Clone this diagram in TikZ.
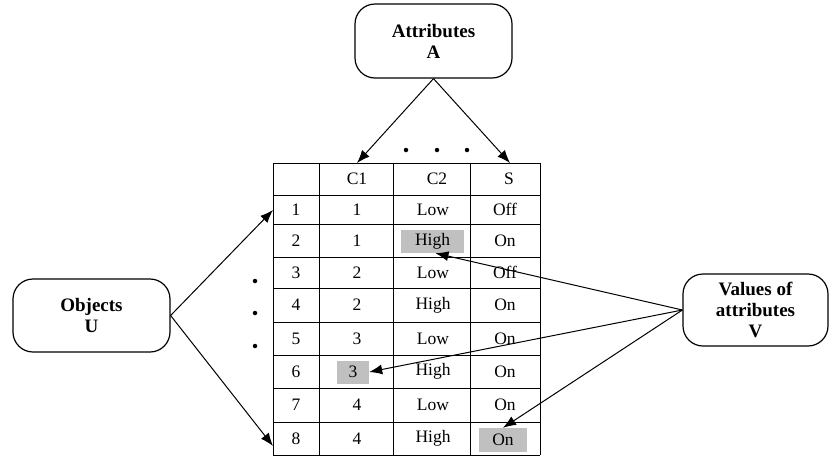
\documentclass[tikz,border=0pt]{standalone}
\usepackage{fontspec}
\setmainfont{Liberation Serif}
\usepackage{xcolor}
\usetikzlibrary{positioning}
\usetikzlibrary{arrows.meta}

\definecolor{cellgray}{RGB}{192,192,192}

\tikzset{
  roundbox/.style={draw, line width=1.2pt, rounded corners=20pt, align=center,
    font=\fontsize{19}{21}\selectfont\bfseries, inner sep=0pt},
  cell/.style={font=\fontsize{17.5}{19}\selectfont, inner sep=0pt},
  hl/.style={cell, fill=cellgray, minimum height=23pt},
  pointer/.style={line width=1pt, -{Latex[length=13pt,width=10pt]}},
  dot/.style={circle, fill=black, inner sep=0pt, minimum size=4.5pt}
}

\begin{document}
\begin{tikzpicture}[x=1pt,y=-1pt]
  \useasboundingbox (0,0) rectangle (830,464);

  % the three boxes
  \node[roundbox, minimum width=157, minimum height=74] (attr) at (433.5,41) {Attributes\\A};
  \node[roundbox, minimum width=157, minimum height=73] (objs) at (91.5,315.5) {Objects\\U};
  \node[roundbox, minimum width=145, minimum height=72] (vals) at (755.5,310) {Values of\\attributes\\V};

  % table grid
  \foreach \y in {163,195,224,257,288,322,355,388,422,455}
    \draw[line width=0.9pt] (273,\y) -- (540,\y);
  \foreach \x in {273,319,393,470,540}
    \draw[line width=0.9pt] (\x,163) -- (\x,455);

  % header
  \node[cell] (hc1) at (357,179) {C1};
  \node[cell] (hc2) at (437,179) {C2};
  \node[cell] (hs)  at (509,179) {S};

  % rows (highlighted cells are set below)
  \foreach \y/\n/\a/\b/\c in {209.5/1/1/Low/Off, 240.5/2/1//On, 272.5/3/2/Low/Off,
      305/4/2/High/On, 338.5/5/3/Low/On, 371.5/6//High/On, 405/7/4/Low/On, 438.5/8/4/High/}
  {
    \node[cell] (n-\n) at (296,\y) {\n};
    \node[cell] (a-\n) at (357,\y) {\a};
    \node[cell] (b-\n) at (433,\y) {\b};
    \node[cell] (c-\n) at (505,\y) {\c};
  }

  % highlighted values
  \node[hl, minimum width=63] (hi)    at (432.5,241.5) {High};
  \node[hl, minimum width=32] (three) at (353,372)     {3};
  \node[hl, minimum width=48, minimum height=24] (on) at (503,440) {On};

  % ends of the arrows on the table
  \coordinate (c1top) at (357,163);
  \coordinate (stop)  at (510,163);
  \coordinate (row1w) at (273,210);
  \coordinate (row8w) at (273,446);

  % dots
  \foreach \x in {406,437,467}
    \node[dot] at (\x,150) {};
  \foreach \y in {281,313,346}
    \node[dot] at (255,\y) {};

  % arrows
  \draw[pointer] (attr.south) -- (c1top);
  \draw[pointer] (attr.south) -- (stop);
  \draw[pointer] (objs.east) -- (row1w);
  \draw[pointer] (objs.east) -- (row8w);
  \draw[pointer] (vals.west) -- ([xshift=3pt]hi.south);
  \draw[pointer] (vals.west) -- (three.east);
  \draw[pointer] (vals.west) -- (on.north);

\end{tikzpicture}
\end{document}
